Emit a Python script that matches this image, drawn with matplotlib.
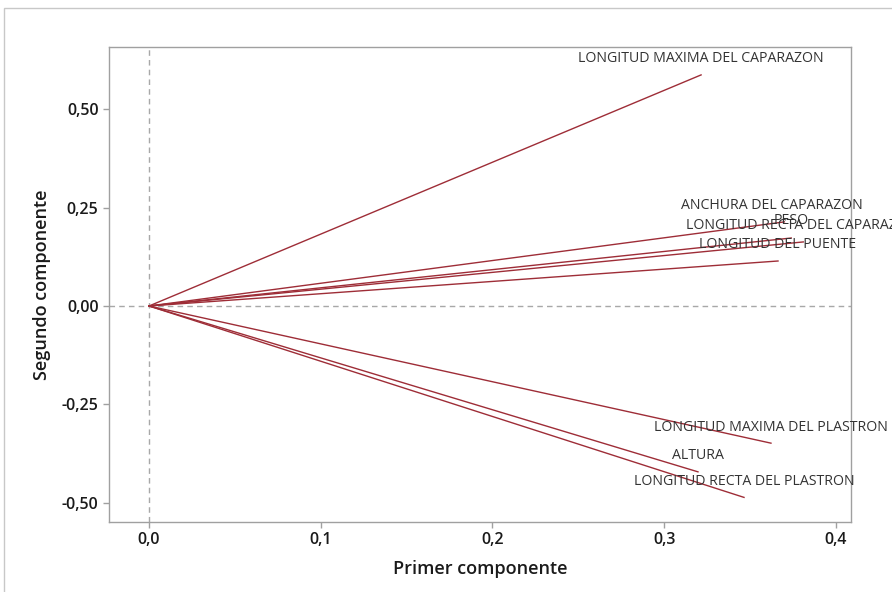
import matplotlib
matplotlib.use("Agg")
import matplotlib.pyplot as plt
from matplotlib.ticker import FuncFormatter
from matplotlib.patches import Rectangle

variables = ["LONGITUD MAXIMA DEL CAPARAZON", "ANCHURA DEL CAPARAZON", "PESO",
             "LONGITUD RECTA DEL CAPARAZON", "LONGITUD DEL PUENTE",
             "LONGITUD MAXIMA DEL PLASTRON", "ALTURA", "LONGITUD RECTA DEL PLASTRON"]
pc1 = [0.3215, 0.370, 0.374, 0.381, 0.3663, 0.3622, 0.3197, 0.3465]
pc2 = [0.588, 0.214, 0.173, 0.163, 0.1145, -0.349, -0.422, -0.487]

x_ticks = [0.0, 0.1, 0.2, 0.3, 0.4]
y_ticks = [-0.50, -0.25, 0.00, 0.25, 0.50]

# label offsets in points (dx, dy)
label_offsets = [(0, 12), (-9, 11.5), (0, 12.5), (-1, 12), (0, 12), (0, 11.5), (0, 11.5), (0, 11.5)]

W, H = 892, 592
fig = plt.figure(figsize=(W / 100, H / 100), dpi=100)
fig.patch.set_facecolor("white")
fig.patches.append(Rectangle((4 / W, -0.1), 1.2, 1.1 - 8 / H, transform=fig.transFigure,
                             fill=False, edgecolor="#c8c8c8", linewidth=1.0))

ax = fig.add_axes([109 / W, 70 / H, (851 - 109) / W, (522 - 47) / H])
ax.set_xlim(-0.0233, 0.4088)
ax.set_ylim(-0.5496, 0.659)

line_color = "#9e2d37"
grey = "#a8a8a8"
ax.axhline(0, color=grey, lw=1, ls=(0, (4, 3)), zorder=1)
ax.axvline(0, color=grey, lw=1, ls=(0, (4, 3)), zorder=1)

for name, x, y, (dx, dy) in zip(variables, pc1, pc2, label_offsets):
    ax.plot([0, x], [0, y], color=line_color, lw=1.0, zorder=3)
    ax.annotate(name, xy=(x, y), xytext=(dx, dy), textcoords="offset points",
                ha="center", va="center", fontsize=10.2, color="#333333",
                family="Open Sans", annotation_clip=False, zorder=4)

ax.set_xticks(x_ticks)
ax.set_yticks(y_ticks)
ax.xaxis.set_major_formatter(FuncFormatter(lambda v, p: f"{v:.1f}".replace(".", ",")))
ax.yaxis.set_major_formatter(FuncFormatter(lambda v, p: f"{v:.2f}".replace(".", ",")))

for s in ax.spines.values():
    s.set_color("#a0a0a0")
    s.set_linewidth(1.0)
ax.tick_params(axis="both", colors="#a0a0a0", length=4, width=1, labelcolor="#1a1a1a",
               labelsize=11.5)
for lab in ax.get_xticklabels() + ax.get_yticklabels():
    lab.set_fontfamily("Open Sans")
    lab.set_fontweight("semibold")

ax.set_xlabel("Primer componente", fontsize=13, family="Open Sans", fontweight="semibold",
              color="#1a1a1a", labelpad=8)
ax.set_ylabel("Segundo componente", fontsize=13, family="Open Sans", fontweight="semibold",
              color="#1a1a1a", labelpad=8)

fig.savefig("out.png", dpi=100)
